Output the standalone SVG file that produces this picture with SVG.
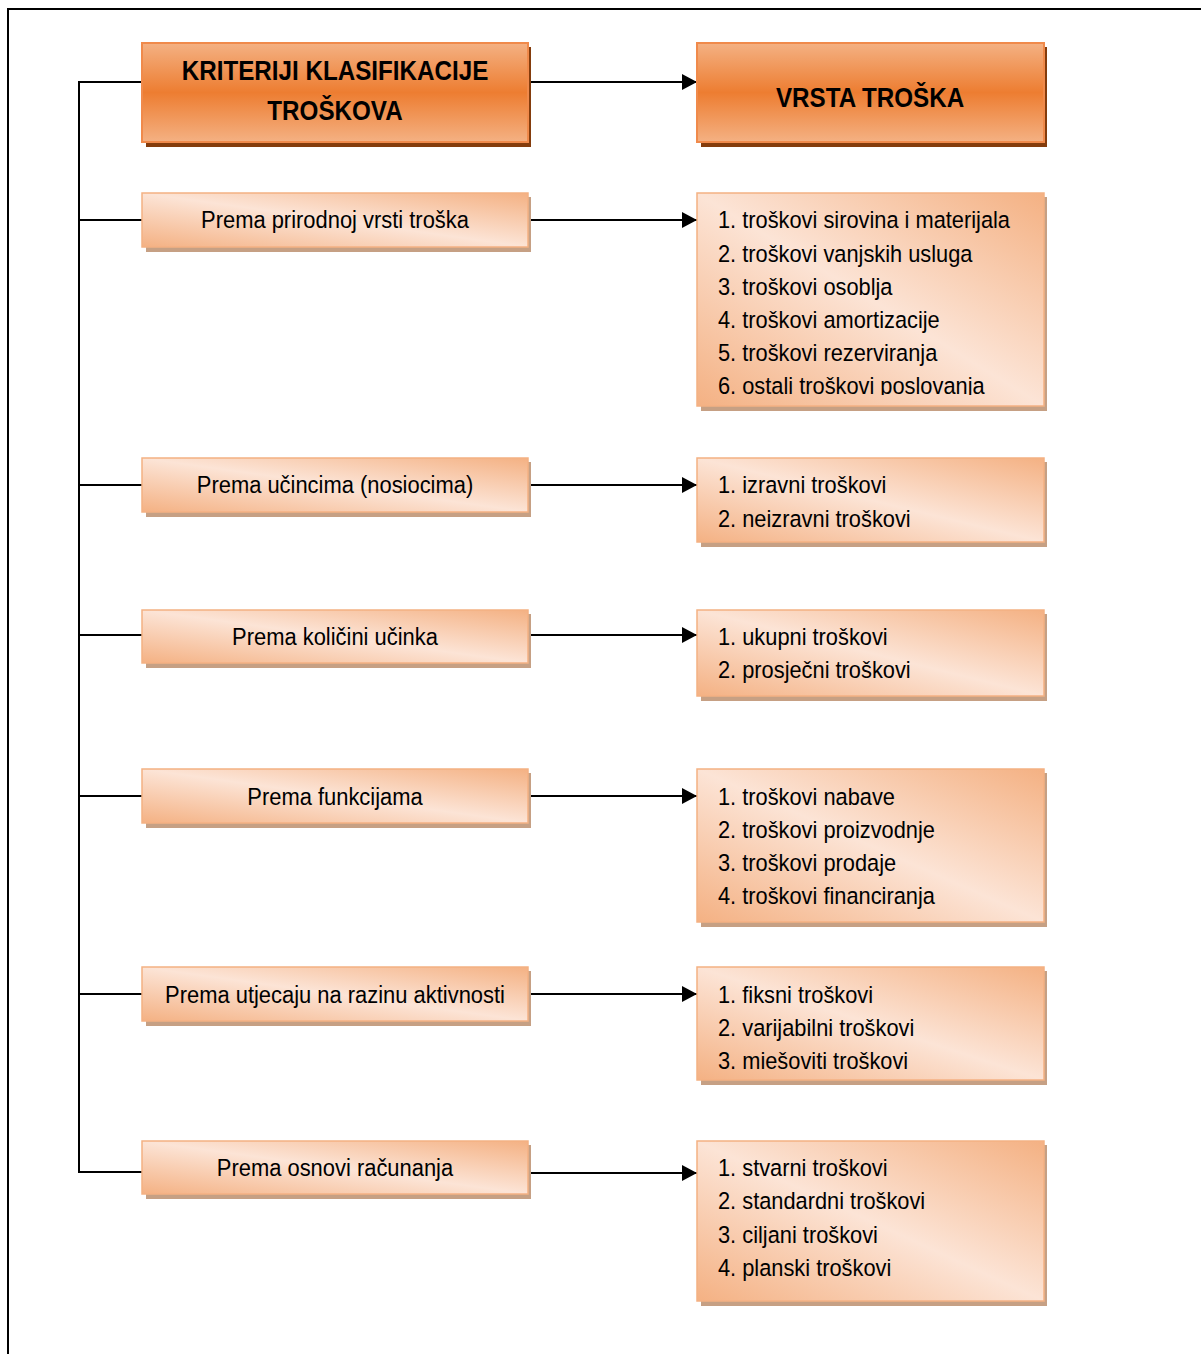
<svg xmlns="http://www.w3.org/2000/svg" width="1201" height="1354" viewBox="0 0 1201 1354">
<defs>
<linearGradient id="gHead" x1="0" y1="0" x2="0" y2="1">
<stop offset="0" stop-color="#F4B183"/>
<stop offset="0.5" stop-color="#ED7D31"/>
<stop offset="1" stop-color="#F4B183"/>
</linearGradient>
<linearGradient id="gSub" x1="1" y1="0" x2="0" y2="1">
<stop offset="0" stop-color="#F4B183"/>
<stop offset="0.5" stop-color="#FCE4D6"/>
<stop offset="1" stop-color="#F4B183"/>
</linearGradient>
<marker id="arr" markerWidth="16" markerHeight="16" refX="15" refY="8" orient="auto" markerUnits="userSpaceOnUse">
<path d="M0,0 L15,8 L0,16 Z" fill="#000"/>
</marker>
<clipPath id="clip1"><rect x="697" y="193" width="348" height="202"/></clipPath>
</defs>
<style>
.frame{fill:none;stroke:#000;stroke-width:2}
.con{fill:none;stroke:#000;stroke-width:2}
.hs{fill:#843C0C}
.hb{fill:url(#gHead);stroke:#F08A4B;stroke-width:2}
.ss{fill:#C6A084}
.sb{fill:url(#gSub);stroke:#F4B183;stroke-width:1.5}
.ht{font-family:"Liberation Sans",Arial,sans-serif;font-weight:bold;font-size:28px;fill:#000;text-anchor:middle}
.lt{font-family:"Liberation Sans",Arial,sans-serif;font-size:24.5px;fill:#000;text-anchor:middle}
.rt{font-family:"Liberation Sans",Arial,sans-serif;font-size:24.5px;fill:#000}
</style>
<path class="frame" d="M8,1354 L8,9 L1201,9"/>
<g id="connectors">
<path class="con" d="M142,82 L79,82 L79,1172 L142,1172"/>
<path class="con" d="M79,220 L142,220"/>
<path class="con" d="M79,485 L142,485"/>
<path class="con" d="M79,635 L142,635"/>
<path class="con" d="M79,796 L142,796"/>
<path class="con" d="M79,994 L142,994"/>
<path class="con" d="M529,82 L697,82" marker-end="url(#arr)"/>
<path class="con" d="M529,220 L697,220" marker-end="url(#arr)"/>
<path class="con" d="M529,485 L697,485" marker-end="url(#arr)"/>
<path class="con" d="M529,635 L697,635" marker-end="url(#arr)"/>
<path class="con" d="M529,796 L697,796" marker-end="url(#arr)"/>
<path class="con" d="M529,994 L697,994" marker-end="url(#arr)"/>
<path class="con" d="M529,1173 L697,1173" marker-end="url(#arr)"/>
</g>
<g id="head-left">
<rect class="hs" x="146" y="47" width="385" height="100"/>
<rect class="hb" x="142" y="43" width="386" height="99"/>
<text class="ht" transform="translate(335,80) scale(0.865,1)">KRITERIJI KLASIFIKACIJE</text>
<text class="ht" transform="translate(335,120) scale(0.865,1)">TROŠKOVA</text>
</g>
<g id="head-right">
<rect class="hs" x="701" y="47" width="346" height="100"/>
<rect class="hb" x="697" y="43" width="347" height="99"/>
<text class="ht" transform="translate(870,107) scale(0.865,1)">VRSTA TROŠKA</text>
</g>
<g id="l1"><rect class="ss" x="146" y="197" width="385" height="55"/><rect class="sb" x="142" y="193" width="386" height="54"/><text class="lt" transform="translate(335,228) scale(0.895,1)">Prema prirodnoj vrsti troška</text></g>
<g id="l2"><rect class="ss" x="146" y="462" width="385" height="55"/><rect class="sb" x="142" y="458" width="386" height="54"/><text class="lt" transform="translate(335,493) scale(0.895,1)">Prema učincima (nosiocima)</text></g>
<g id="l3"><rect class="ss" x="146" y="614" width="385" height="54"/><rect class="sb" x="142" y="610" width="386" height="53"/><text class="lt" transform="translate(335,645) scale(0.895,1)">Prema količini učinka</text></g>
<g id="l4"><rect class="ss" x="146" y="773" width="385" height="55"/><rect class="sb" x="142" y="769" width="386" height="54"/><text class="lt" transform="translate(335,805) scale(0.895,1)">Prema funkcijama</text></g>
<g id="l5"><rect class="ss" x="146" y="971" width="385" height="55"/><rect class="sb" x="142" y="967" width="386" height="54"/><text class="lt" transform="translate(335,1003) scale(0.895,1)">Prema utjecaju na razinu aktivnosti</text></g>
<g id="l6"><rect class="ss" x="146" y="1145" width="385" height="54"/><rect class="sb" x="142" y="1141" width="386" height="53"/><text class="lt" transform="translate(335,1176) scale(0.895,1)">Prema osnovi računanja</text></g>
<g id="r1"><rect class="ss" x="701" y="197" width="346" height="214"/><rect class="sb" x="697" y="193" width="347" height="213"/>
<g clip-path="url(#clip1)">
<text class="rt" transform="translate(718,228) scale(0.89,1)">1. troškovi sirovina i materijala</text>
<text class="rt" transform="translate(718,262) scale(0.89,1)">2. troškovi vanjskih usluga</text>
<text class="rt" transform="translate(718,295) scale(0.89,1)">3. troškovi osoblja</text>
<text class="rt" transform="translate(718,328) scale(0.89,1)">4. troškovi amortizacije</text>
<text class="rt" transform="translate(718,361) scale(0.89,1)">5. troškovi rezerviranja</text>
<text class="rt" transform="translate(718,394) scale(0.89,1)">6. ostali troškovi poslovanja</text>
</g></g>
<g id="r2"><rect class="ss" x="701" y="462" width="346" height="85"/><rect class="sb" x="697" y="458" width="347" height="84"/>
<text class="rt" transform="translate(718,493) scale(0.89,1)">1. izravni troškovi</text>
<text class="rt" transform="translate(718,527) scale(0.89,1)">2. neizravni troškovi</text></g>
<g id="r3"><rect class="ss" x="701" y="614" width="346" height="87"/><rect class="sb" x="697" y="610" width="347" height="86"/>
<text class="rt" transform="translate(718,645) scale(0.89,1)">1. ukupni troškovi</text>
<text class="rt" transform="translate(718,678) scale(0.89,1)">2. prosječni troškovi</text></g>
<g id="r4"><rect class="ss" x="701" y="773" width="346" height="154"/><rect class="sb" x="697" y="769" width="347" height="153"/>
<text class="rt" transform="translate(718,805) scale(0.89,1)">1. troškovi nabave</text>
<text class="rt" transform="translate(718,838) scale(0.89,1)">2. troškovi proizvodnje</text>
<text class="rt" transform="translate(718,871) scale(0.89,1)">3. troškovi prodaje</text>
<text class="rt" transform="translate(718,904) scale(0.89,1)">4. troškovi financiranja</text></g>
<g id="r5"><rect class="ss" x="701" y="971" width="346" height="114"/><rect class="sb" x="697" y="967" width="347" height="113"/>
<text class="rt" transform="translate(718,1003) scale(0.89,1)">1. fiksni troškovi</text>
<text class="rt" transform="translate(718,1036) scale(0.89,1)">2. varijabilni troškovi</text>
<text class="rt" transform="translate(718,1069) scale(0.89,1)">3. miešoviti troškovi</text></g>
<g id="r6"><rect class="ss" x="701" y="1145" width="346" height="161"/><rect class="sb" x="697" y="1141" width="347" height="160"/>
<text class="rt" transform="translate(718,1176) scale(0.89,1)">1. stvarni troškovi</text>
<text class="rt" transform="translate(718,1209) scale(0.89,1)">2. standardni troškovi</text>
<text class="rt" transform="translate(718,1243) scale(0.89,1)">3. ciljani troškovi</text>
<text class="rt" transform="translate(718,1276) scale(0.89,1)">4. planski troškovi</text></g>
</svg>
